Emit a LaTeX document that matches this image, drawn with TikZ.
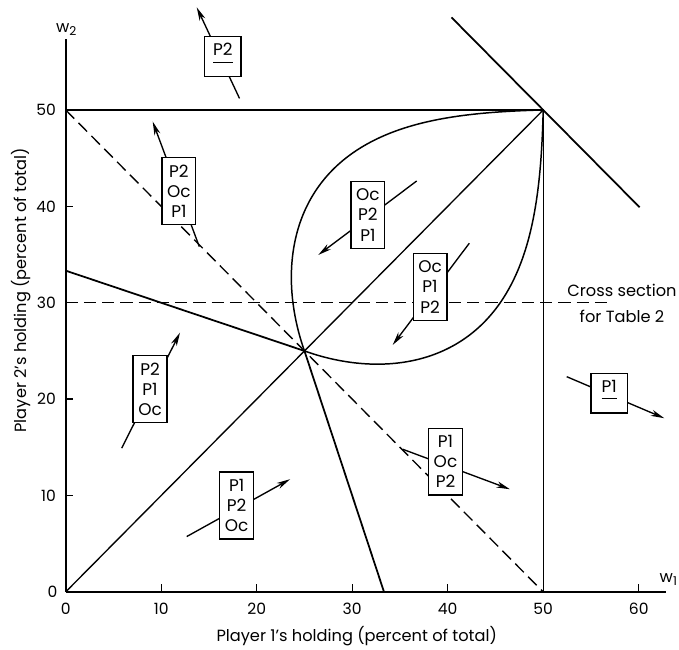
\documentclass[tikz,border=0pt]{standalone}
\usepackage{fontspec}
\setmainfont{Poppins}
\usetikzlibrary{arrows.meta}
\newcommand\myul[1]{\setbox0\hbox{#1}\rlap{\rule[-5pt]{\wd0}{0.8pt}}\box0}
\begin{document}
\begin{tikzpicture}[x=2.483mm,y=2.506mm,
  every node/.style={inner sep=0pt},
  axisline/.style={line width=1.3pt},
  tickline/.style={line width=1pt},
  plainline/.style={line width=1pt},
  heavyline/.style={line width=1.3pt},
  leafline/.style={line width=1.1pt},
  dashline/.style={line width=1pt, dash pattern=on 9pt off 4.5pt},
  vecline/.style={line width=1pt,-{Stealth[length=10pt,width=4.6pt,inset=3pt]}},
  lbox/.style={draw,line width=0.9pt,fill=white,align=center,
    font=\fontsize{12.5}{15}\selectfont,minimum width=8.8mm,minimum height=17.4mm},
  ubox/.style={draw,line width=0.9pt,fill=white,font=\fontsize{12.5}{15}\selectfont,
    minimum width=9.45mm,minimum height=10.3mm,text height=8pt,text depth=9pt},
  ticklbl/.style={font=\fontsize{11.5}{13}\selectfont},
  titlelbl/.style={font=\fontsize{12}{15}\selectfont}]
\useasboundingbox (-6.88,-6.02) rectangle (64.22,61.41);

% axes
\coordinate (O) at (0,0);
\coordinate (xend) at (62.9,0);
\coordinate (yend) at (0,57.4);
\draw[axisline] (O) -- (xend);
\draw[axisline] (O) -- (yend);
\foreach \x in {10,20,30,40,60} \draw[tickline] (\x,0) -- (\x,0.85);
\foreach \y in {10,20,30,40} \draw[tickline] (0,\y) -- (0.8,\y);
\foreach \x in {0,10,20,30,40,50,60} \node[ticklbl] (xt\x) at (\x,-1.75) {\x};
\foreach \y in {10,20,30,40,50} \node[ticklbl,anchor=east] (yt\y) at (-1.0,\y) {\y};
\node[ticklbl,anchor=east] (yt0) at (-0.85,0) {0};
\node[titlelbl] (w1) at (63.1,1.25) {w\raisebox{-0.35ex}{\fontsize{9}{10}\selectfont 1}};
\node[titlelbl] (w2) at (0.05,58.3) {w\raisebox{-0.35ex}{\fontsize{9}{10}\selectfont 2}};
\node[titlelbl,anchor=base] (xtitle) at (30.47,-5.15) {Player 1's holding (percent of total)};
\node[titlelbl,anchor=base,rotate=90] (ytitle) at (-4.1,31.3) {Player 2's holding (percent of total)};

% key points
\coordinate (A50) at (0,50);
\coordinate (Q) at (50,50);
\coordinate (B50) at (50,0);
\coordinate (M) at (25,25);
\coordinate (L1) at (0,33.33);
\coordinate (L2) at (33.33,0);
\coordinate (C0) at (0,30);
\coordinate (C1) at (56.8,30);
\coordinate (T1) at (40.4,59.6);
\coordinate (T2) at (60.1,39.9);

% lines
\draw[plainline] (A50) -- (Q) -- (B50);
\draw[dashline] (A50) -- (B50);
\draw[dashline] (C0) -- (C1);
\draw[heavyline] (L1) -- (M) -- (L2);
\draw[plainline] (O) -- (Q);
\draw[heavyline] (T1) -- (T2);
\draw[leafline] (M) .. controls (22.5,32) and (23,40.6) .. (30,45.5)
  .. controls (35,49) and (42,49.8) .. (Q)
  .. controls (49.8,42) and (49,35) .. (45.5,30)
  .. controls (40.6,23) and (32,22.5) .. (M) -- cycle;

\node[titlelbl,align=center,font=\fontsize{12}{19.2}\selectfont] (cs) at (58.25,29.9) {Cross section\\for Table 2};

% vectors
\coordinate (tA) at (18.2,51.2);   \coordinate (hA) at (13.72,60.65);
\coordinate (tB) at (13.99,35.82); \coordinate (hB) at (9.11,48.79);
\coordinate (tC) at (36.75,42.63); \coordinate (hC) at (26.45,34.96);
\coordinate (tD) at (42.26,36.17); \coordinate (hD) at (34.24,25.62);
\coordinate (tE) at (5.86,14.91);  \coordinate (hE) at (11.97,26.9);
\coordinate (tF) at (12.67,5.74);  \coordinate (hF) at (23.49,11.69);
\coordinate (tG) at (35.29,14.8);  \coordinate (hG) at (46.52,10.65);
\coordinate (tH) at (52.46,22.33); \coordinate (hH) at (62.68,18.02);
\foreach \v in {A,B,C,D,E,F,G,H} \draw[vecline] (t\v) -- (h\v);

% boxes
\node[ubox] (bA) at (16.46,55.53) {\myul{P2}};
\node[lbox] (bB) at (11.85,41.58) {P2\\Oc\\P1};
\node[lbox] (bC) at (31.65,39.1) {Oc\\P2\\P1};
\node[lbox] (bD) at (38.15,31.63) {Oc\\P1\\P2};
\node[lbox] (bE) at (8.83,21.02) {P2\\P1\\Oc};
\node[lbox] (bF) at (17.9,8.96) {P1\\P2\\Oc};
\node[lbox] (bG) at (39.77,13.52) {P1\\Oc\\P2};
\node[ubox] (bH) at (56.91,20.61) {\myul{P1}};
\end{tikzpicture}
\end{document}
